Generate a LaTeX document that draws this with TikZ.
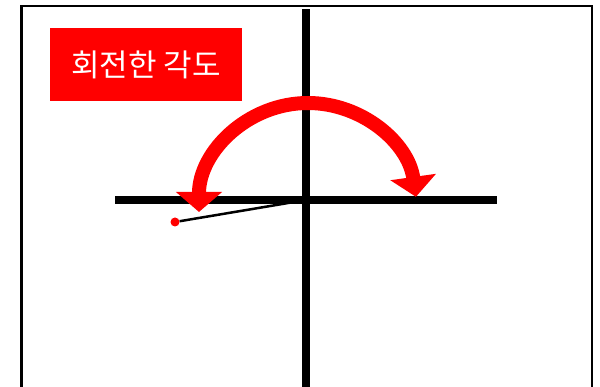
\documentclass[tikz,border=0pt]{standalone}
\usepackage{fontspec}
\newfontfamily\kofont{Noto Sans CJK KR}
\usetikzlibrary{arrows.meta}
\definecolor{turnred}{RGB}{255,0,0}

\begin{document}
\begin{tikzpicture}[x=1pt,y=-1pt,>=Stealth]
    \useasboundingbox (0,0) rectangle (600,387);
    \clip (0,0) rectangle (600,387);

    % Frame
    \draw[line width=2.5pt] (21.5,400) -- (21.5,6) -- (592,6) -- (592,400);

    % Axes
    \coordinate (O) at (306,200);
    \coordinate (xl) at (115,200);
    \coordinate (xr) at (497,200);
    \coordinate (yt) at (306,9.5);
    \coordinate (yb) at (306,400);
    \draw[line width=7.5pt] (xl) -- (xr);
    \draw[line width=7.5pt] (yt) -- (yb);

    % Label
    \node[fill=turnred,minimum width=192pt,minimum height=73pt,inner sep=0pt,
          text=white,font=\kofont\fontsize{31}{34}\selectfont] (lbl) at (146,64.5) {회전한 각도};

    % Rotation arrow
    \draw[turnred,line width=14pt,{Triangle[width=45pt,length=20pt]}-{Triangle[width=45pt,length=20pt]}]
        (307,212) ++(180:108) arc (180:352:109);

    % Turned point
    \node[circle,fill=turnred,inner sep=0pt,minimum size=9pt] (P) at (175,222) {};
    \draw[line width=2.5pt] (O) -- (P);
\end{tikzpicture}
\end{document}
